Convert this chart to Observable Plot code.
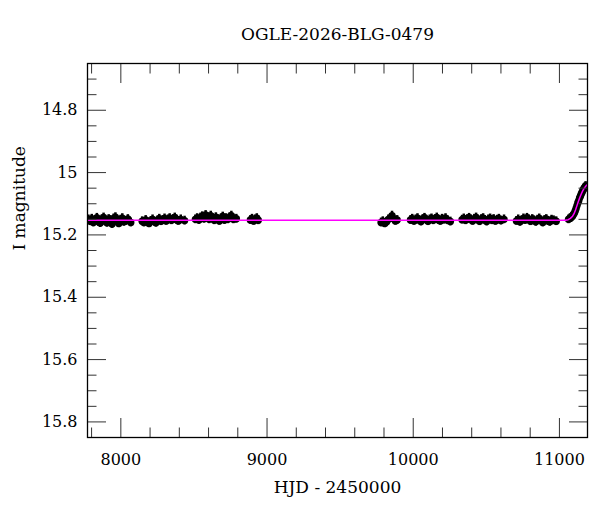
<!DOCTYPE html>
<html>
<head>
<meta charset="utf-8">
<script src="https://cdn.jsdelivr.net/npm/d3@7"></script>
<script src="https://cdn.jsdelivr.net/npm/@observablehq/plot@0.6"></script>
<style>
  html, body { margin: 0; padding: 0; background: white; }
</style>
</head>
<body>
<div id="chart"></div>
<script>
const title = "OGLE-2026-BLG-0479";
const xLabel = "HJD - 2450000";
const yLabel = "I magnitude";

const xMajor = [8000, 9000, 10000, 11000];
const xTickLabels = ["8000", "9000", "10000", "11000"];
const xMinor = [7800, 8200, 8400, 8600, 8800, 9200, 9400, 9600, 9800, 10200, 10400, 10600, 10800];
const yMajor = [14.8, 15, 15.2, 15.4, 15.6, 15.8];
const yTickLabels = ["14.8", "15", "15.2", "15.4", "15.6", "15.8"];
const yMinor = [14.70, 14.75, 14.85, 14.90, 14.95, 15.05, 15.10, 15.15, 15.25, 15.30, 15.35, 15.45, 15.50, 15.55, 15.65, 15.70, 15.75];

// Observations, one pair of arrays per season
const hjdS1 = [7778, 7789, 7801, 7812, 7824, 7836, 7847, 7859, 7870, 7882, 7893, 7905, 7917, 7928, 7940, 7951, 7963, 7975, 7986, 7998, 8010, 8021, 8033, 8048, 8068];
const magS1 = [15.150, 15.156, 15.148, 15.160, 15.153, 15.145, 15.158, 15.162, 15.150, 15.144, 15.156, 15.161, 15.149, 15.152, 15.165, 15.147, 15.143, 15.157, 15.163, 15.151, 15.146, 15.158, 15.155, 15.149, 15.160];

const hjdS2 = [8146, 8158, 8170, 8181, 8193, 8205, 8217, 8228, 8240, 8252, 8263, 8275, 8287, 8299, 8310, 8322, 8334, 8346, 8357, 8369, 8381, 8393, 8410, 8436];
const magS2 = [15.156, 15.160, 15.152, 15.158, 15.163, 15.155, 15.150, 15.157, 15.161, 15.153, 15.148, 15.156, 15.152, 15.147, 15.155, 15.150, 15.146, 15.153, 15.149, 15.144, 15.151, 15.155, 15.150, 15.154];

const hjdS3 = [8510, 8522, 8534, 8545, 8557, 8569, 8580, 8592, 8604, 8615, 8627, 8639, 8650, 8662, 8674, 8685, 8697, 8709, 8720, 8732, 8744, 8756, 8770, 8790];
const magS3 = [15.150, 15.146, 15.152, 15.144, 15.140, 15.148, 15.136, 15.142, 15.150, 15.138, 15.146, 15.153, 15.143, 15.149, 15.155, 15.147, 15.141, 15.152, 15.146, 15.150, 15.143, 15.138, 15.150, 15.148];

const hjdS4 = [8886, 8897, 8908, 8919, 8930, 8940];
const magS4 = [15.152, 15.148, 15.155, 15.150, 15.146, 15.153];

const hjdS5 = [9780, 9792, 9805, 9818, 9830, 9843, 9855, 9866, 9878, 9890];
const magS5 = [15.160, 15.156, 15.163, 15.158, 15.150, 15.146, 15.138, 15.148, 15.155, 15.152];

const hjdS6 = [9981, 9993, 10005, 10017, 10029, 10041, 10053, 10065, 10077, 10089, 10101, 10113, 10125, 10137, 10149, 10161, 10173, 10185, 10197, 10209, 10221, 10235, 10254];
const magS6 = [15.152, 15.148, 15.155, 15.150, 15.146, 15.153, 15.157, 15.149, 15.145, 15.151, 15.156, 15.150, 15.147, 15.153, 15.149, 15.144, 15.152, 15.155, 15.148, 15.151, 15.146, 15.153, 15.157];

const hjdS7 = [10334, 10346, 10358, 10370, 10382, 10394, 10406, 10418, 10430, 10442, 10454, 10466, 10478, 10490, 10502, 10514, 10526, 10538, 10550, 10562, 10574, 10586, 10600, 10621];
const magS7 = [15.151, 15.147, 15.153, 15.149, 15.145, 15.150, 15.155, 15.148, 15.144, 15.151, 15.156, 15.149, 15.146, 15.152, 15.157, 15.150, 15.147, 15.153, 15.149, 15.155, 15.151, 15.148, 15.154, 15.150];

const hjdS8 = [10706, 10718, 10730, 10742, 10754, 10766, 10778, 10790, 10802, 10814, 10826, 10838, 10850, 10862, 10874, 10886, 10898, 10910, 10922, 10934, 10946, 10960, 10978];
const magS8 = [15.155, 15.150, 15.158, 15.153, 15.147, 15.152, 15.145, 15.150, 15.156, 15.149, 15.153, 15.158, 15.151, 15.147, 15.154, 15.160, 15.152, 15.149, 15.155, 15.158, 15.151, 15.153, 15.156];

const hjdS9 = [11062, 11070, 11077, 11084, 11090, 11096, 11102, 11108, 11114, 11120, 11126, 11132, 11138, 11144, 11150, 11156, 11162, 11168, 11174, 11179];
const magS9 = [15.150, 15.147, 15.146, 15.142, 15.139, 15.134, 15.130, 15.123, 15.115, 15.106, 15.097, 15.090, 15.081, 15.075, 15.068, 15.062, 15.056, 15.051, 15.047, 15.043];

const magErr = 0.014;

// Model curve (magenta)
const modelHjd = [7772, 11040, 11060, 11075, 11090, 11100, 11110, 11120, 11130, 11140, 11150, 11160, 11170, 11180, 11192];
const modelMag = [15.153, 15.153, 15.151, 15.147, 15.140, 15.132, 15.120, 15.106, 15.092, 15.079, 15.068, 15.058, 15.050, 15.044, 15.038];

const seasons = [[hjdS1, magS1], [hjdS2, magS2], [hjdS3, magS3], [hjdS4, magS4], [hjdS5, magS5], [hjdS6, magS6], [hjdS7, magS7], [hjdS8, magS8], [hjdS9, magS9]];
const points = seasons.flatMap(([h, m]) => h.map((d, i) => ({hjd: d, mag: m[i]})));
const model = modelHjd.map((d, i) => ({hjd: d, mag: modelMag[i]}));

const tickStroke = "#333";
const blank = () => "";

const chart = Plot.plot({
  width: 600,
  height: 512,
  marginTop: 63,
  marginBottom: 75,
  marginLeft: 87,
  marginRight: 13,
  style: {fontFamily: "'DejaVu Serif', serif", fontSize: "16px", color: "black", background: "white"},
  x: {domain: [7772, 11192], axis: null},
  y: {domain: [14.65, 15.85], reverse: true, axis: null},
  marks: [
    Plot.ruleX(points, {x: "hjd", y1: d => d.mag - magErr, y2: d => d.mag + magErr, stroke: "black", strokeWidth: 2.5, clip: true}),
    Plot.dot(points, {x: "hjd", y: "mag", r: 3.7, fill: "black", stroke: null, clip: true}),
    Plot.line(model, {x: "hjd", y: "mag", stroke: "#ff00ff", strokeWidth: 1.5, clip: true}),
    // inward ticks on all four sides
    Plot.axisX({anchor: "bottom", ticks: xMajor, tickSize: -19, tickFormat: blank, label: null, stroke: tickStroke}),
    Plot.axisX({anchor: "bottom", ticks: xMinor, tickSize: -9.5, tickFormat: blank, label: null, stroke: tickStroke}),
    Plot.axisX({anchor: "top", ticks: xMajor, tickSize: -19, tickFormat: blank, label: null, stroke: tickStroke}),
    Plot.axisX({anchor: "top", ticks: xMinor, tickSize: -9.5, tickFormat: blank, label: null, stroke: tickStroke}),
    Plot.axisY({anchor: "left", ticks: yMajor, tickSize: -19, tickFormat: blank, label: null, stroke: tickStroke}),
    Plot.axisY({anchor: "left", ticks: yMinor, tickSize: -9.5, tickFormat: blank, label: null, stroke: tickStroke}),
    Plot.axisY({anchor: "right", ticks: yMajor, tickSize: -19, tickFormat: blank, label: null, stroke: tickStroke}),
    Plot.axisY({anchor: "right", ticks: yMinor, tickSize: -9.5, tickFormat: blank, label: null, stroke: tickStroke}),
    // tick labels
    Plot.axisX({anchor: "bottom", ticks: xMajor, tickSize: 0, tickPadding: 16, tickFormat: d => xTickLabels[xMajor.indexOf(d)], label: null, fontSize: 16}),
    Plot.axisY({anchor: "left", ticks: yMajor, tickSize: 0, tickPadding: 10, tickFormat: d => yTickLabels[yMajor.indexOf(d)], label: null, fontSize: 16}),
    Plot.frame({stroke: "black", strokeWidth: 1.3}),
    // titles
    Plot.text([title], {text: d => d, frameAnchor: "top", dy: -28.5, fontSize: 17, lineAnchor: "middle"}),
    Plot.text([xLabel], {text: d => d, frameAnchor: "bottom", dy: 50, fontSize: 17, lineAnchor: "middle"}),
    Plot.text([yLabel], {text: d => d, frameAnchor: "left", dx: -68, rotate: -90, fontSize: 17, lineAnchor: "middle"})
  ]
});
document.getElementById("chart").appendChild(chart);
</script>
</body>
</html>
